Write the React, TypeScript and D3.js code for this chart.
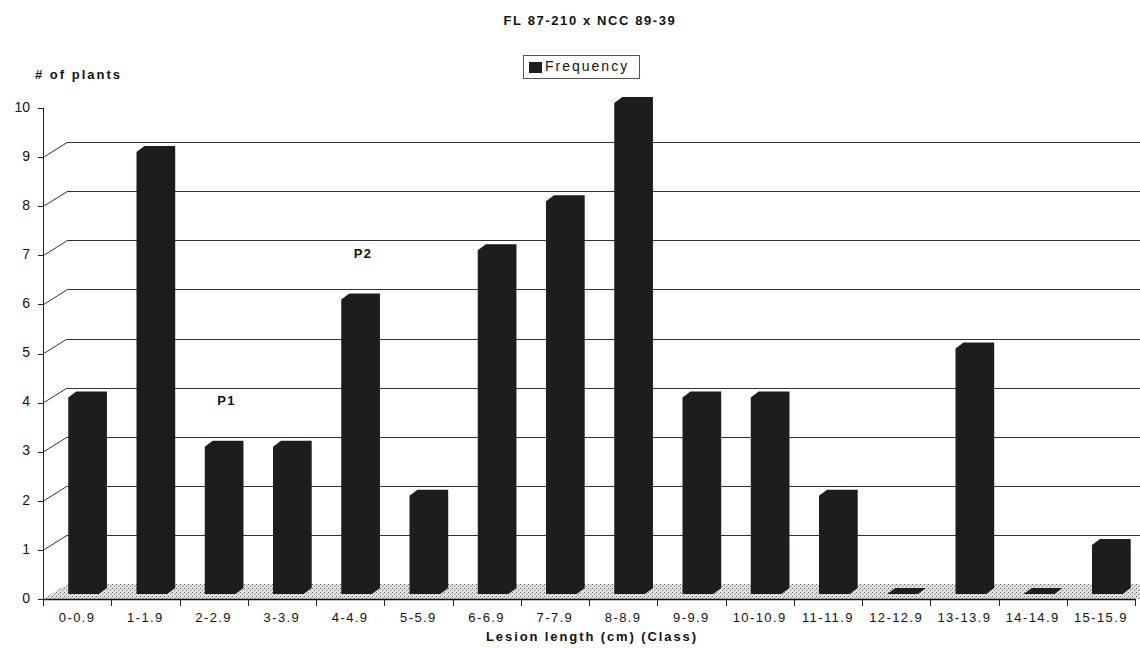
import React from "react";
import * as d3 from "d3";

const categories = ["0-0.9", "1-1.9", "2-2.9", "3-3.9", "4-4.9", "5-5.9", "6-6.9", "7-7.9", "8-8.9", "9-9.9", "10-10.9", "11-11.9", "12-12.9", "13-13.9", "14-14.9", "15-15.9"];
const frequency = [4, 9, 3, 3, 6, 2, 7, 8, 10, 4, 4, 2, 0, 5, 0, 1];
const yTicks = [0, 1, 2, 3, 4, 5, 6, 7, 8, 9, 10];
const gridValues = [1, 2, 3, 4, 5, 6, 7, 8, 9];
const annotations = [
  { label: "P1", category: "2-2.9", value: 4 },
  { label: "P2", category: "4-4.9", value: 7 },
];

const W = 1140;
const H = 648;
const X0 = 43;
const X1 = 1135;
const Y0 = 599;
const Y1 = 108;
const DX = 24;
const DY = 15;
const BDX = 8;
const BDY = 6;
const FONT = "'Liberation Sans', Arial, Helvetica, sans-serif";

export default function App() {
  const x = d3.scaleBand<string>().domain(categories).range([X0, X1]).padding(0);
  const y = d3.scaleLinear().domain([0, 10]).range([Y0, Y1]);
  const bw = x.bandwidth();

  const barPath = (cat: string, v: number) => {
    const bs = x(cat) as number;
    const fx0 = bs + 0.37 * bw;
    const fx1 = bs + 0.82 * bw;
    const fb = y(0) - 5;
    const ft = y(v) - 5;
    const p = d3.path();
    p.moveTo(fx0, fb);
    p.lineTo(fx0, ft);
    p.lineTo(fx0 + BDX, ft - BDY);
    p.lineTo(fx1 + BDX, ft - BDY);
    p.lineTo(fx1 + BDX, fb - BDY);
    p.lineTo(fx1, fb);
    p.closePath();
    return p.toString();
  };

  const floor = `M${X0},${y(0)} L${X0 + DX},${y(0) - DY} L${X1 + DX + 40},${y(0) - DY} L${X1 + 40},${y(0)} Z`;

  return (
    <svg width={W} height={H} style={{ display: "block", position: "absolute", left: 0, top: 0, background: "#fff" }} fontFamily={FONT}>
      <defs>
        <pattern id="stipple" width="4" height="4" patternUnits="userSpaceOnUse">
          <rect width="4" height="4" fill="#e0e0e0" />
          <rect x="0" y="0" width="1" height="1" fill="#666" />
          <rect x="2" y="2" width="1" height="1" fill="#888" />
          <rect x="3" y="1" width="1" height="1" fill="#bbb" />
        </pattern>
      </defs>
      <rect width={W} height={H} fill="#fff" />

      {/* title */}
      <text x={590} y={22} textAnchor="middle" fontSize={13} fontWeight="bold" letterSpacing={1.6} fill="#111" dominantBaseline="middle">
        FL 87-210 x NCC 89-39
      </text>

      {/* legend */}
      <rect x={523.5} y={55.5} width={116} height={23} fill="#fff" stroke="#555" strokeWidth={1} />
      <rect x={529} y={62} width={13} height={11} fill="#1e1c1d" />
      <text x={545} y={67.5} fontSize={14} letterSpacing={2} fill="#111" dominantBaseline="middle">
        Frequency
      </text>

      {/* y axis title */}
      <text x={35} y={76} fontSize={13} fontWeight="bold" letterSpacing={2} fill="#111" dominantBaseline="middle">
        # of plants
      </text>

      {/* left wall + back wall gridlines */}
      {gridValues.map((v) => (
        <g key={v} stroke="#333" strokeWidth={1} fill="none">
          <line x1={X0} y1={y(v) + 0.5} x2={X0 + DX} y2={y(v) - DY + 0.5} />
          <line x1={X0 + DX} y1={Math.round(y(v) - DY) + 0.5} x2={W + 10} y2={Math.round(y(v) - DY) + 0.5} />
        </g>
      ))}

      {/* floor */}
      <path d={floor} fill="url(#stipple)" />

      {/* bars */}
      {categories.map((c, i) => (
        <path key={c} d={barPath(c, frequency[i])} fill="#1e1c1d" />
      ))}

      {/* y axis */}
      <line x1={X0 + 0.5} y1={y(10)} x2={X0 + 0.5} y2={y(0)} stroke="#222" strokeWidth={1} />
      {yTicks.map((t) => (
        <g key={t}>
          <line x1={X0 - 5} y1={Math.round(y(t)) + 0.5} x2={X0} y2={Math.round(y(t)) + 0.5} stroke="#222" />
          <text x={30} y={y(t)} textAnchor="end" dominantBaseline="middle" fontSize={14} fill="#111">
            {t}
          </text>
        </g>
      ))}

      {/* x axis */}
      <line x1={X0} y1={Y0 + 0.5} x2={X1} y2={Y0 + 0.5} stroke="#111" strokeWidth={1.5} />
      {[...categories.map((c) => x(c) as number), X1].map((px, i) => (
        <line key={i} x1={Math.round(px) + 0.5} y1={Y0} x2={Math.round(px) + 0.5} y2={Y0 + 7} stroke="#222" />
      ))}
      {categories.map((c) => (
        <text key={c} x={(x(c) as number) + bw / 2} y={619} textAnchor="middle" dominantBaseline="middle" fontSize={13} letterSpacing={1.4} fill="#111">
          {c}
        </text>
      ))}
      <text x={592} y={638} textAnchor="middle" dominantBaseline="middle" fontSize={13} fontWeight="bold" letterSpacing={1.9} fill="#111">
        Lesion length (cm) (Class)
      </text>

      {/* annotations */}
      {annotations.map((a) => (
        <text key={a.label} x={(x(a.category) as number) + bw / 2 + 13} y={y(a.value) - 1} textAnchor="middle" dominantBaseline="middle" fontSize={13} fontWeight="bold" letterSpacing={1.5} fill="#111">
          {a.label}
        </text>
      ))}
    </svg>
  );
}
